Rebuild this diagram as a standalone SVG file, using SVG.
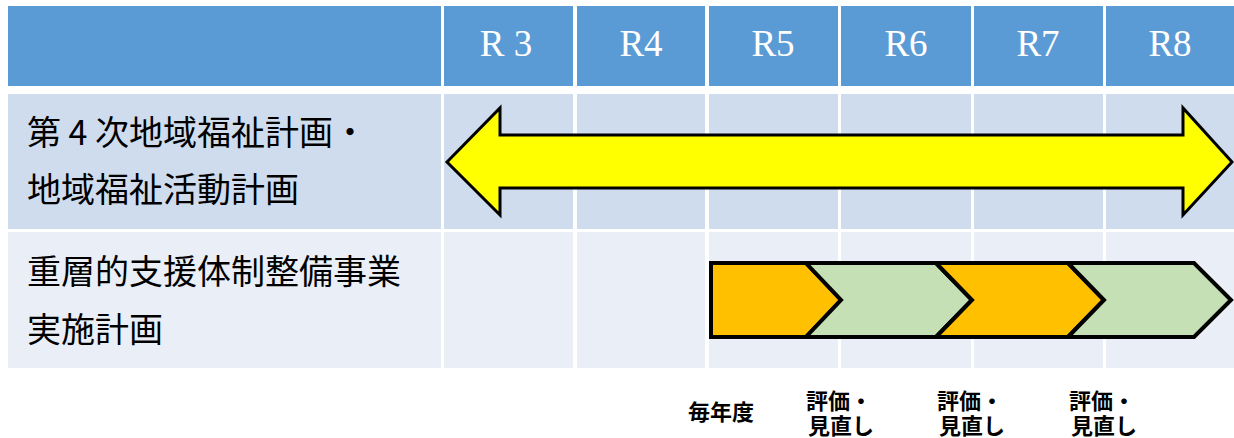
<svg xmlns="http://www.w3.org/2000/svg" width="1234" height="438" viewBox="0 0 1234 438">
<style>
.hd{fill:#5B9BD5}
.r1{fill:#CFDCEE}
.r2{fill:#E9EEF7}
.yr{font-family:"Liberation Serif",serif;font-size:37px;fill:#FFFFFF;text-anchor:middle}
.lb{font-family:"Noto Sans CJK JP",sans-serif;font-size:34px;fill:#000000}
.sm{font-family:"Noto Sans CJK JP",sans-serif;font-size:22px;font-weight:bold;fill:#000000}
.org{fill:#FFC000;stroke:#000;stroke-width:4;stroke-linejoin:miter}
.grn{fill:#C5E0B4;stroke:#000;stroke-width:4;stroke-linejoin:miter}
</style>
<rect width="1234" height="438" fill="#FFFFFF"/>
<g id="header">
<rect class="hd" x="8" y="6" width="433" height="80"/>
<rect class="hd" x="444" y="6" width="129" height="80"/>
<rect class="hd" x="577" y="6" width="128" height="80"/>
<rect class="hd" x="709" y="6" width="129" height="80"/>
<rect class="hd" x="841" y="6" width="130" height="80"/>
<rect class="hd" x="974" y="6" width="129" height="80"/>
<rect class="hd" x="1106" y="6" width="128" height="80"/>
<text class="yr" x="506" y="56">R 3</text>
<text class="yr" x="641" y="56">R4</text>
<text class="yr" x="773" y="56">R5</text>
<text class="yr" x="906" y="56">R6</text>
<text class="yr" x="1038" y="56">R7</text>
<text class="yr" x="1170" y="56">R8</text>
</g>
<g id="row1">
<rect class="r1" x="8" y="94" width="433" height="135"/>
<rect class="r1" x="444" y="94" width="129" height="135"/>
<rect class="r1" x="577" y="94" width="128" height="135"/>
<rect class="r1" x="709" y="94" width="129" height="135"/>
<rect class="r1" x="841" y="94" width="130" height="135"/>
<rect class="r1" x="974" y="94" width="129" height="135"/>
<rect class="r1" x="1106" y="94" width="128" height="135"/>
<text class="lb" x="27" y="145">第 4 次地域福祉計画・</text>
<text class="lb" x="27" y="202">地域福祉活動計画</text>
</g>
<g id="row2">
<rect class="r2" x="8" y="232" width="433" height="136"/>
<rect class="r2" x="444" y="232" width="129" height="136"/>
<rect class="r2" x="577" y="232" width="128" height="136"/>
<rect class="r2" x="709" y="232" width="129" height="136"/>
<rect class="r2" x="841" y="232" width="130" height="136"/>
<rect class="r2" x="974" y="232" width="129" height="136"/>
<rect class="r2" x="1106" y="232" width="128" height="136"/>
<text class="lb" x="27" y="284">重層的支援体制整備事業</text>
<text class="lb" x="27" y="342">実施計画</text>
</g>
<g id="plan-arrow">
<polygon points="447,162 500,108 500,135 1183,135 1183,108 1232,162 1183,215 1183,188 500,188 500,215" fill="#FFFF00" stroke="#000" stroke-width="3"/>
</g>
<g id="cycle">
<polygon class="org" points="711,263 806,263 841,300 806,337 711,337"/>
<polygon class="grn" points="806,263 936,263 972,300 936,337 806,337 841,300"/>
<polygon class="org" points="936,263 1068,263 1104,300 1068,337 936,337 972,300"/>
<polygon class="grn" points="1068,263 1194,263 1231,300 1194,337 1068,337 1104,300"/>
</g>
<g id="labels">
<text class="sm" x="688" y="420">毎年度</text>
<text class="sm"><tspan x="806" y="409">評価・</tspan><tspan x="808" y="434">見直し</tspan></text>
<text class="sm"><tspan x="937" y="409">評価・</tspan><tspan x="939" y="434">見直し</tspan></text>
<text class="sm"><tspan x="1069" y="409">評価・</tspan><tspan x="1071" y="434">見直し</tspan></text>
</g>
</svg>
